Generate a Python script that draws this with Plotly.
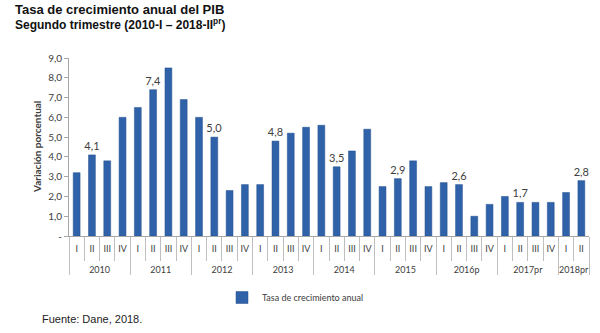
import plotly.graph_objects as go

# Quarterly annual GDP growth rate, 2010-I to 2018-II
years = ["2010"] * 4 + ["2011"] * 4 + ["2012"] * 4 + ["2013"] * 4 + ["2014"] * 4 \
    + ["2015"] * 4 + ["2016p"] * 4 + ["2017pr"] * 4 + ["2018pr"] * 2
quarters = ["I", "II", "III", "IV"] * 8 + ["I", "II"]
growth = [3.2, 4.1, 3.8, 6.0,
          6.5, 7.4, 8.5, 6.9,
          6.0, 5.0, 2.3, 2.6,
          2.6, 4.8, 5.2, 5.5,
          5.6, 3.5, 4.3, 5.4,
          2.5, 2.9, 3.8, 2.5,
          2.7, 2.6, 1.0, 1.6,
          2.0, 1.7, 1.7, 1.7,
          2.2, 2.8]
# Only the second quarter of each year carries a value label
labelled = [q == "II" for q in quarters]

y_ticks = [0, 1, 2, 3, 4, 5, 6, 7, 8, 9]
y_tick_text = ["-", "1,0", "2,0", "3,0", "4,0", "5,0", "6,0", "7,0", "8,0", "9,0"]

bar_text = [f"{v:.1f}".replace(".", ",") if show else "" for v, show in zip(growth, labelled)]
# the year row sits one line lower, below the quarter row
year_axis = ["<br>" + y for y in years]

# plot area spans pixels 69..589 horizontally and 58..236 vertically
PL, PR, PT, PB = 69, 589, 58, 236


def px_x(p):
    return (p - PL) / (PR - PL)


def px_y(p):
    return (PB - p) / (PB - PT)


fig = go.Figure()
fig.add_trace(go.Bar(
    x=[year_axis, quarters],
    y=growth,
    name="Tasa de crecimiento anual",
    marker=dict(color="#2F62A9", line=dict(color="#24508F", width=0.5)),
    text=bar_text,
    textposition="outside",
    constraintext="none",
    textfont=dict(family="Lato", size=11, color="#404040"),
    cliponaxis=False,
    hoverinfo="y",
))

fig.update_layout(
    width=600, height=333,
    margin=dict(l=PL, r=600 - PR, t=PT, b=333 - PB),
    paper_bgcolor="white", plot_bgcolor="white",
    bargap=0.55,
    separators=",.",
    showlegend=True,
    legend=dict(orientation="h", x=px_x(222), xanchor="left", y=px_y(283), yanchor="top",
                font=dict(family="Lato", size=9, color="#404040"),
                itemwidth=30),
    font=dict(family="Lato", size=10, color="#404040"),
)

fig.update_yaxes(
    range=[0, 9], tickvals=y_ticks, ticktext=y_tick_text,
    showgrid=False, zeroline=False,
    showline=True, linecolor="#A6A6A6", linewidth=1,
    ticks="outside", ticklen=4, tickcolor="#A6A6A6",
    tickfont=dict(family="Lato", size=10, color="#404040"),
)
fig.update_xaxes(
    type="multicategory",
    showline=True, linecolor="#A6A6A6", linewidth=1,
    ticks="outside", ticklen=24, tickcolor="#BFBFBF", tickson="boundaries",
    tickangle=0, ticklabelstandoff=4,
    showdividers=True, dividercolor="#BFBFBF", dividerwidth=1,
    tickfont=dict(family="Lato", size=9, color="#404040"),
    showgrid=False,
)

# Two-line heading
fig.add_annotation(
    text="<b>Tasa de crecimiento anual del PIB</b>",
    xref="paper", yref="paper", x=px_x(13), y=px_y(9),
    xanchor="left", yanchor="middle", showarrow=False,
    font=dict(family="Liberation Sans", size=13, color="#111111"),
)
fig.add_annotation(
    text="<b>Segundo trimestre (2010-I – 2018-II<sup>pr</sup>)</b>",
    xref="paper", yref="paper", x=px_x(13), y=px_y(24),
    xanchor="left", yanchor="middle", showarrow=False,
    font=dict(family="Liberation Sans", size=12, color="#111111"),
)
fig.add_annotation(
    text="<b>Variación porcentual</b>", textangle=-90,
    xref="paper", yref="paper", x=px_x(37), y=0.5,
    xanchor="center", yanchor="middle", showarrow=False,
    font=dict(family="Lato", size=10, color="#404040"),
)
fig.add_annotation(
    text="Fuente: Dane, 2018.",
    xref="paper", yref="paper", x=px_x(40), y=px_y(319),
    xanchor="left", yanchor="middle", showarrow=False,
    font=dict(family="Liberation Sans Narrow, Liberation Sans", size=11, color="#222222"),
)

fig.write_html("out.html")
